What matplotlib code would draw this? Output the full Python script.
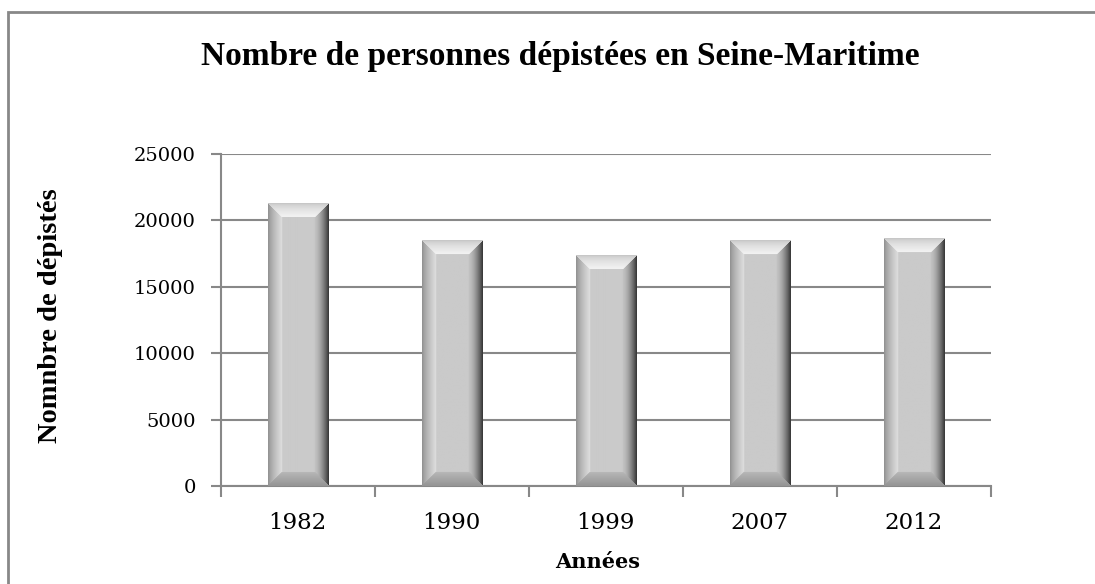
import numpy as np
import matplotlib.pyplot as plt
from matplotlib.patches import Rectangle

annees = ['1982', '1990', '1999', '2007', '2012']
depistes = [21300, 18450, 17370, 18450, 18600]
yticks = [0, 5000, 10000, 15000, 20000, 25000]

fig = plt.figure(figsize=(10.95, 5.84), dpi=100)
ax = fig.add_axes([0.2016, 0.1678, 0.7031, 0.5685])

x = np.arange(len(annees))
bars = ax.bar(x, depistes, width=0.39, color='#c8c8c8', zorder=2)
ax.set_xlim(-0.5, 4.5)
ax.set_ylim(0, 25000)


# effet biseauté façon Excel
def bevel(wpx, hpx, b=14):
    U, V = np.meshgrid(np.arange(wpx) + 0.5, np.arange(hpx) + 0.5)
    dl, dr, dt, db = U, wpx - U, V, hpx - V
    bb = min(b, hpx / 2)
    img = np.full(U.shape, 0.79)
    m = dl < b
    img[m] = 0.55 + 0.32 * (dl[m] / b) ** 0.7
    m = dr < b
    img[m] = 0.76 - 0.56 * (1 - dr[m] / b) ** 1.6
    m = (dt < bb) & (dt <= dl) & (dt <= dr)
    img[m] = 0.74 + 0.21 * (dt[m] / bb) ** 0.5
    m = (db < bb) & (db <= dl) & (db <= dr)
    img[m] = 0.58 + 0.14 * (db[m] / bb)
    return img


for p in bars.patches:
    x0, w, h = p.get_x(), p.get_width(), p.get_height()
    (px0, py0), (px1, py1) = ax.transData.transform([(x0, 0), (x0 + w, h)])
    img = bevel(int(round(px1 - px0)), int(round(py1 - py0)))
    ax.imshow(img, cmap='gray', vmin=0, vmax=1, extent=(x0, x0 + w, 0, h),
              aspect='auto', interpolation='bilinear', zorder=3)

ax.set_xlim(-0.5, 4.5)
ax.set_ylim(0, 25000)

ax.set_yticks(yticks)
ax.set_yticklabels([str(v) for v in yticks], fontsize=14, family='DejaVu Serif')
ax.set_xticks(x)
ax.set_xticklabels(annees, fontsize=16.5, family='DejaVu Serif')
ax.set_xticks(np.arange(-0.5, 5, 1), minor=True)
ax.tick_params(axis='x', which='major', length=0, pad=19)
ax.tick_params(axis='x', which='minor', length=8, width=1.5, color='#888888')
ax.tick_params(axis='y', length=7, width=1.5, color='#888888', pad=11)

ax.grid(axis='y', color='#888888', linewidth=1.5, zorder=0)
ax.set_axisbelow(True)
for s in ['top', 'right']:
    ax.spines[s].set_visible(False)
for s in ['left', 'bottom']:
    ax.spines[s].set_color('#888888')
    ax.spines[s].set_linewidth(1.5)

fig.text(560 / 1095, 1 - 57 / 584, 'Nombre de personnes dépistées en Seine-Maritime',
         ha='center', va='center', fontsize=24, fontweight='bold', family='Liberation Serif')
fig.text(51 / 1095, 1 - 316 / 584, 'Nomnbre de dépistés', rotation=90,
         ha='center', va='center', fontsize=20.5, fontweight='bold', family='Liberation Serif')
fig.text(598 / 1095, 1 - 562 / 584, 'Années', ha='center', va='center',
         fontsize=15, fontweight='bold', family='DejaVu Serif')

fig.patches.append(Rectangle((8 / 1095, -0.1), 1.2, 1 - 12 / 584 + 0.1,
                             transform=fig.transFigure, fill=False,
                             edgecolor='#888888', linewidth=2))

fig.savefig('out.png', dpi=100)
